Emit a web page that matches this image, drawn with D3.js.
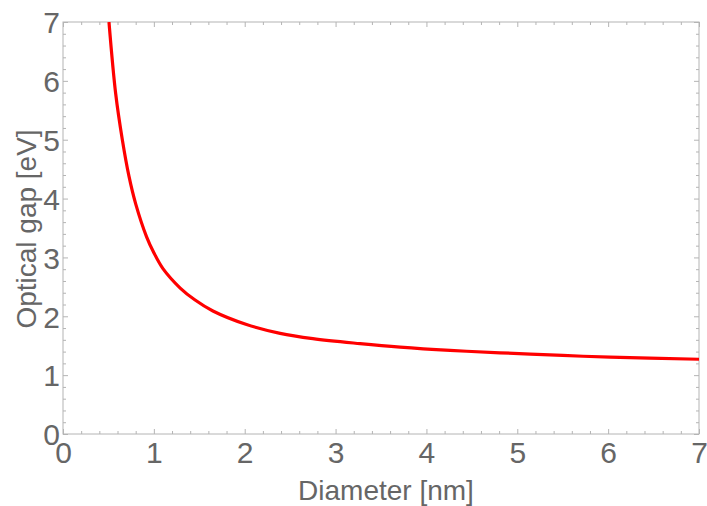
<!DOCTYPE html>
<html>
<head>
<meta charset="utf-8">
<script src="https://cdn.jsdelivr.net/npm/d3@7"></script>
<style>
  body { margin: 0; background: #fff; }
  text { font-family: "Liberation Sans", Arial, sans-serif; fill: #666; }
</style>
</head>
<body>
<svg id="chart" width="707" height="506"></svg>
<script>
// values
var diameter = [0.506, 0.58, 0.653, 0.726, 0.80, 0.92, 1.0, 1.10, 1.29, 1.45,
  1.65, 2.02, 2.39, 2.75, 3.27, 3.71, 4.26, 4.81, 5.5, 6.02, 7.0];
var gap = [7.0, 5.78, 5.00, 4.38, 3.91, 3.35, 3.08, 2.81, 2.48, 2.28,
  2.09, 1.86, 1.71, 1.62, 1.535, 1.475, 1.42, 1.38, 1.335, 1.305, 1.27];
var majorTicks = [0, 1, 2, 3, 4, 5, 6, 7];
var minorTicks = d3.range(0, 35).map(function (i) { return i / 5; })
  .filter(function (v) { return v % 1 !== 0; });

(function () {
  "use strict";

  var svg = d3.select("#chart"),
    plotLeft = 63, plotRight = 699, plotTop = 22, plotBottom = 434,
    frameColor = "#b4b4b4",
    x = d3.scaleLinear().domain([0, 7]).range([plotLeft, plotRight]),
    y = d3.scaleLinear().domain([0, 7]).range([plotBottom, plotTop]),
    xAxis, yAxis, line;

  var tidy = function (g) {
    g.select(".domain").remove();
    g.selectAll(".tick line").attr("stroke", frameColor);
  };

  // minor ticks, all four sides, pointing inward
  svg.append("g").attr("transform", "translate(0," + plotBottom + ")")
    .call(d3.axisBottom(x).tickValues(minorTicks).tickSize(-3).tickFormat("")).call(tidy);
  svg.append("g").attr("transform", "translate(0," + plotTop + ")")
    .call(d3.axisTop(x).tickValues(minorTicks).tickSize(-3).tickFormat("")).call(tidy);
  svg.append("g").attr("transform", "translate(" + plotLeft + ",0)")
    .call(d3.axisLeft(y).tickValues(minorTicks).tickSize(-3).tickFormat("")).call(tidy);
  svg.append("g").attr("transform", "translate(" + plotRight + ",0)")
    .call(d3.axisRight(y).tickValues(minorTicks).tickSize(-3).tickFormat("")).call(tidy);

  // major ticks without labels (top, right)
  svg.append("g").attr("transform", "translate(0," + plotTop + ")")
    .call(d3.axisTop(x).tickValues(majorTicks).tickSize(-5).tickFormat("")).call(tidy);
  svg.append("g").attr("transform", "translate(" + plotRight + ",0)")
    .call(d3.axisRight(y).tickValues(majorTicks).tickSize(-5).tickFormat("")).call(tidy);

  xAxis = svg.append("g").attr("transform", "translate(0," + plotBottom + ")")
    .call(d3.axisBottom(x).tickValues(majorTicks).tickSize(-5)
      .tickFormat(d3.format("d")))
    .call(tidy);
  xAxis.selectAll("text")
    .attr("y", 29).attr("dy", null)
    .style("font-size", "30px").style("fill", "#666");

  yAxis = svg.append("g").attr("transform", "translate(" + plotLeft + ",0)")
    .call(d3.axisLeft(y).tickValues(majorTicks).tickSize(-5)
      .tickFormat(d3.format("d")))
    .call(tidy);
  yAxis.selectAll("text")
    .attr("x", -3).attr("dy", "0.36em")
    .style("font-size", "30px").style("fill", "#666");

  // frame
  svg.append("rect")
    .attr("x", plotLeft).attr("y", plotTop)
    .attr("width", plotRight - plotLeft).attr("height", plotBottom - plotTop)
    .attr("fill", "none").attr("stroke", frameColor).attr("stroke-width", 1);

  svg.append("clipPath").attr("id", "plotclip")
    .append("rect")
    .attr("x", plotLeft).attr("y", plotTop)
    .attr("width", plotRight - plotLeft).attr("height", plotBottom - plotTop);

  line = d3.line()
    .x(function (d, i) { return x(diameter[i]); })
    .y(function (d) { return y(d); })
    .curve(d3.curveCatmullRom.alpha(0.5));

  svg.append("path")
    .datum(gap)
    .attr("clip-path", "url(#plotclip)")
    .attr("d", line)
    .attr("fill", "none")
    .attr("stroke", "#ff0000")
    .attr("stroke-width", 3.2);

  // axis titles
  svg.append("text")
    .attr("x", 386).attr("y", 500)
    .attr("text-anchor", "middle")
    .style("font-size", "28px")
    .text("Diameter [nm]");

  svg.append("text")
    .attr("transform", "translate(36,229) rotate(-90)")
    .attr("text-anchor", "middle")
    .style("font-size", "28px")
    .text("Optical gap [eV]");
}());
</script>
</body>
</html>
